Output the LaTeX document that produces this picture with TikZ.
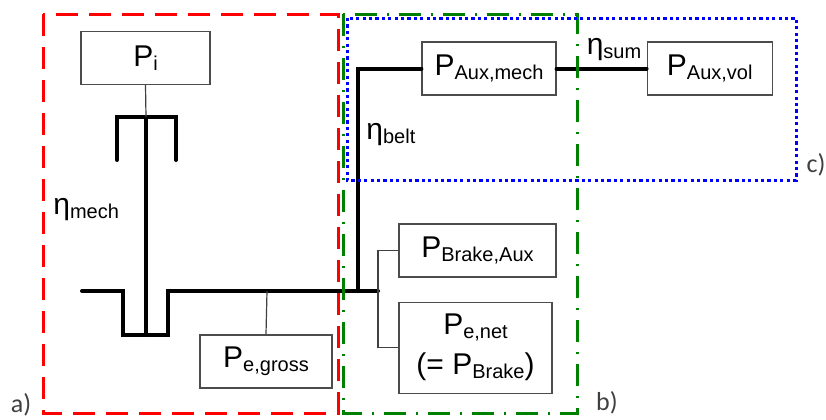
\documentclass[tikz,border=0pt]{standalone}
\usepackage{fontspec}
\setmainfont{Liberation Sans}
\newfontfamily\labelfont{Carlito}
\usetikzlibrary{positioning}

% subscript in the style of the figure
\newcommand{\psub}[1]{\raisebox{-2pt}{\fontsize{10}{10}\selectfont #1}}

\begin{document}
\begin{tikzpicture}[
    x=0.5pt, y=-0.5pt,
    % --- STYLES ---
    box/.style={
        rectangle, draw=black!70, line width=0.6pt,
        fill=white, align=center,
        font=\fontsize{15}{20}\selectfont,
        minimum height=26.5pt, inner sep=2pt
    },
    shaft/.style={line width=2pt, line cap=round},
    link/.style={draw=black!75, line width=0.6pt},
    eta/.style={font=\fontsize{15}{18}\selectfont, inner sep=0pt},
    tag/.style={font=\labelfont\fontsize{13}{15}\selectfont, text=black!75, inner sep=0pt},
    regionA/.style={draw=red, line width=1.5pt, dash pattern=on 11pt off 5.5pt},
    regionB/.style={draw=black!50!green, line width=1.5pt,
        dash pattern=on 11pt off 5pt on 1pt off 5pt},
    regionC/.style={draw=blue, line width=1.5pt, dash pattern=on 1.6pt off 1.6pt}
]
\useasboundingbox (0,0) rectangle (826,419);

% ===== 1. POWER BOXES =====
\node[box, minimum width=64.5pt] (pi) at (145.5,58) {P\psub{i}};
\node[box, minimum width=66pt] (gross) at (266,361.5) {P\psub{e,gross}};

\node[box, minimum width=67pt] (auxmech) at (489,68.5) {P\psub{Aux,mech}};
\node[box, minimum width=62.5pt, right=45pt of auxmech] (auxvol) {P\psub{Aux,vol}};

\node[box, minimum width=78.5pt] (brakeaux) at (477.5,250.5) {P\psub{Brake,Aux}};
\node[box, minimum width=76.5pt, minimum height=45.5pt,
      below=12pt of brakeaux.south west, anchor=north west] (net)
      {P\psub{e,net}\\(= P\psub{Brake})};

% ===== 2. SHAFTS =====
\coordinate (forktop) at (146,117);
\coordinate (gtap) at (267,291);
\coordinate (split) at (378,291);
\coordinate (beltfoot) at (358,291);
\coordinate (beltknee) at (358,68.5);

% crank with flywheel fork
\draw[shaft] (82,291) -- (123,291) -- (123,335) -- (168,335) -- (168,291) -- (split);
\draw[shaft] (forktop) -- (146,335);
\draw[shaft] (117,160) -- (117,117) -- (176,117) -- (176,160);

% belt to the auxiliaries
\draw[shaft] (beltfoot) -- (beltknee) -- (auxmech.west);
\draw[shaft] (auxmech.east) -- (auxvol.west);

% ===== 3. TAPS =====
\draw[link] (pi.south) -- (forktop);
\draw[link] (gtap) -- (gross.north);
\draw[link] (split) |- (brakeaux.west);
\draw[link] (split) |- (net.west);

% ===== 4. EFFICIENCIES =====
\node[eta, anchor=west] (emech) at (53,210) {η\psub{mech}};
\node[eta, anchor=west] (ebelt) at (366,135) {η\psub{belt}};
\node[eta] (esum) at (614,50) {η\psub{sum}};

% ===== 5. SYSTEM BOUNDARIES =====
\draw[regionA] (43,14) rectangle (338,413);
\draw[regionB] (343,14) rectangle (577,413);
\draw[regionC] (347,18) rectangle (796,180);

\node[tag] (ta) at (21,405) {a)};
\node[tag] (tb) at (607,403) {b)};
\node[tag] (tc) at (816,165) {c)};

\end{tikzpicture}
\end{document}
